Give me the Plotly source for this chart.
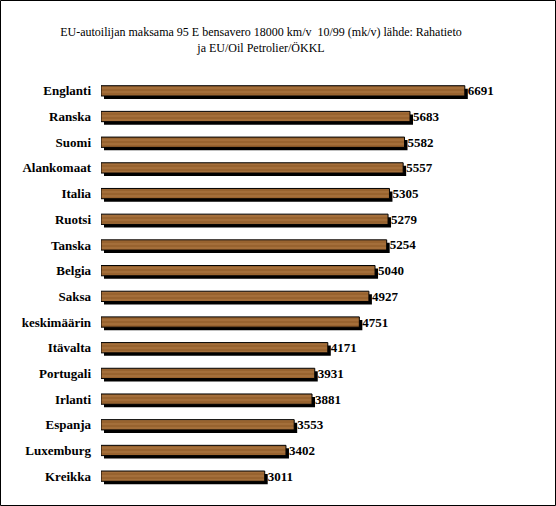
import plotly.graph_objects as go

maat = ["Englanti", "Ranska", "Suomi", "Alankomaat", "Italia", "Ruotsi", "Tanska",
        "Belgia", "Saksa", "keskimäärin", "Itävalta", "Portugali", "Irlanti",
        "Espanja", "Luxemburg", "Kreikka"]
vero = [6691, 5683, 5582, 5557, 5305, 5279, 5254, 5040, 4927, 4751, 4171, 3931,
        3881, 3553, 3402, 3011]

W, H = 556, 506
ML, MR, MT, MB = 101, 17, 78, 14
pw, ph = W - ML - MR, H - MT - MB
dx, dy = 3 / pw, 3 / ph  # varjon siirtymä

fnt = "Liberation Serif, Times New Roman, serif"

fig = go.Figure()

# varjo (alempi kerros)
fig.add_trace(go.Bar(
    x=vero, y=maat, orientation="h",
    marker=dict(color="black", line=dict(width=0)),
    hoverinfo="skip", showlegend=False,
))

# puukuvioinen palkki
fig.add_trace(go.Bar(
    x=vero, y=maat, orientation="h", xaxis="x2", yaxis="y2",
    text=[str(v) for v in vero], textposition="outside", cliponaxis=False,
    constraintext="none",
    outsidetextfont=dict(family=fnt, size=13, color="black", weight="bold"),
    marker=dict(
        color="#9c6636",
        line=dict(color="black", width=1),
        pattern=dict(shape="-", fgcolor="#c08a52", bgcolor="#98632f",
                     size=4, solidity=0.3),
    ),
    showlegend=False,
))

fig.update_layout(
    width=W, height=H,
    margin=dict(l=ML, r=MR, t=MT, b=MB),
    paper_bgcolor="white", plot_bgcolor="rgba(0,0,0,0)",
    bargap=0.6,
    title=dict(
        text="EU-autoilijan maksama 95 E bensavero 18000 km/v  10/99 (mk/v) lähde: Rahatieto<br>ja EU/Oil Petrolier/ÖKKL",
        x=261 / W, xanchor="center", y=1 - 36 / H, yanchor="middle",
        font=dict(family=fnt, size=12, color="black"),
    ),
    xaxis=dict(range=[0, 8000], visible=False, domain=[dx, 1]),
    yaxis=dict(autorange="reversed", domain=[0, 1 - dy], visible=False),
    xaxis2=dict(range=[0, 8000], visible=False, domain=[0, 1 - dx], anchor="y2"),
    yaxis2=dict(autorange="reversed", domain=[dy, 1], anchor="x2",
                showgrid=False, ticks="", showline=False, ticklabelstandoff=9,
                tickfont=dict(family=fnt, size=13, color="black", weight="bold")),
    shapes=[dict(type="rect", xref="paper", yref="paper",
                 x0=-ML / pw + 0.5 / pw, x1=1 + MR / pw - 0.5 / pw,
                 y0=-MB / ph + 0.5 / ph, y1=1 + MT / ph - 0.5 / ph,
                 line=dict(color="black", width=1))],
)

fig.write_html("out.html", config={"displayModeBar": False},
               post_script="document.body.style.margin='0';")
